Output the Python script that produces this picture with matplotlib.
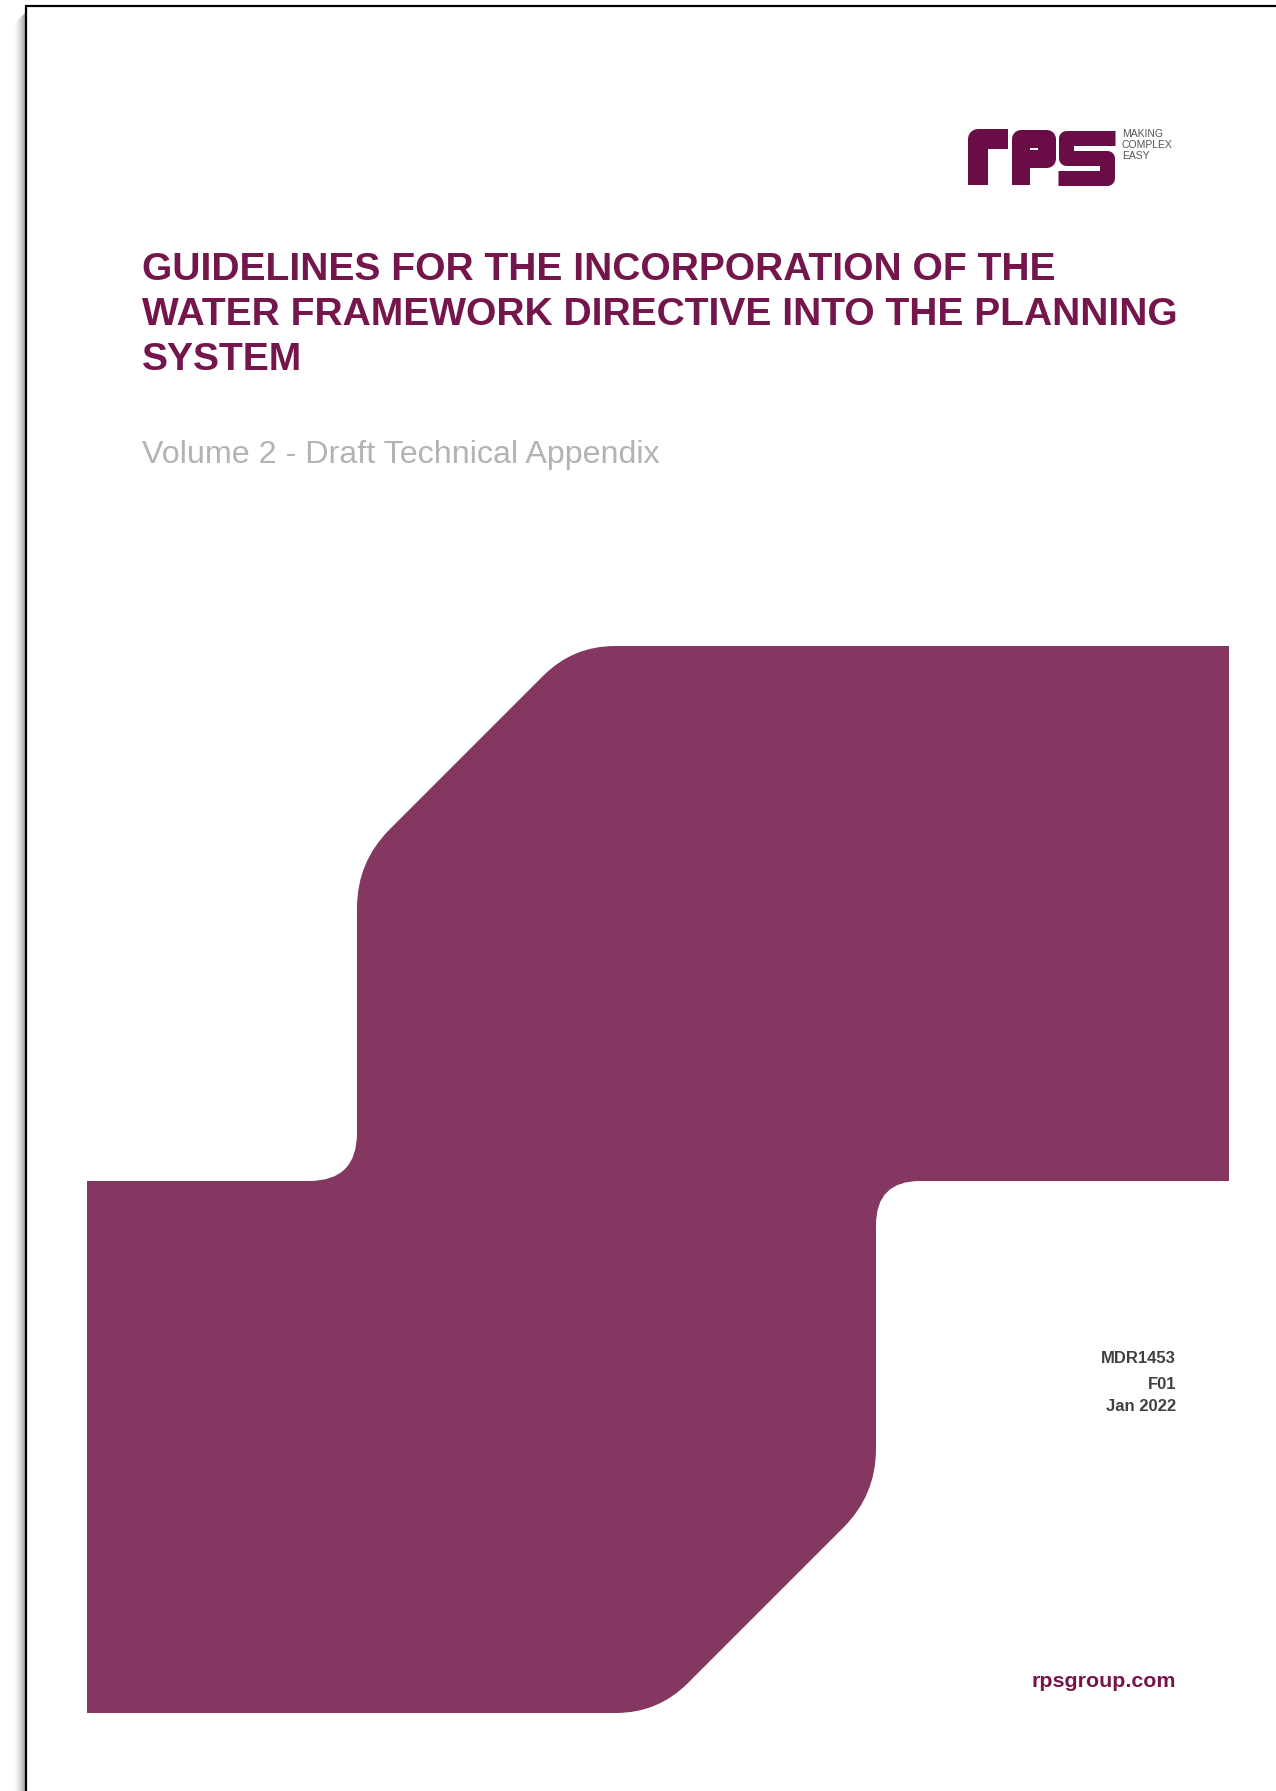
import numpy as np
import matplotlib.pyplot as plt
from matplotlib.path import Path
from matplotlib.patches import PathPatch

# page size in pixels (figure drawn in pixel coordinates, y going down)
W, H = 1276, 1791

# cover texts
title_lines = ['GUIDELINES FOR THE INCORPORATION OF THE',
               'WATER FRAMEWORK DIRECTIVE INTO THE PLANNING',
               'SYSTEM']
subtitle = 'Volume 2 - Draft Technical Appendix'
doc_info = ['MDR1453', 'F01', 'Jan 2022']
tagline = ['MAKING', 'COMPLEX', 'EASY']
website = 'rpsgroup.com'

# outline of the big purple shape: corner points and rounding length at each corner
shape_x = [573, 1229, 1229, 876, 876, 658, 87, 87, 357, 357]
shape_y = [646, 646, 1181, 1181, 1495, 1713, 1713, 1181, 1181, 862]
shape_round = [42, 0, 0, 44, 46, 42, 0, 0, 48, 46]

purple = '#843760'
dark_purple = '#74164b'
logo_col = '#6a0c45'


def rounded_path(xs, ys, rs):
    pts = np.column_stack([xs, ys]).astype(float)
    n = len(pts)
    verts, codes = [], []
    for i in range(n):
        v = pts[i]
        prev = pts[i - 1]
        nxt = pts[(i + 1) % n]
        r = rs[i]
        if r == 0:
            verts.append(v)
            codes.append(Path.MOVETO if i == 0 else Path.LINETO)
            continue
        a = v + r * (prev - v) / np.linalg.norm(prev - v)
        b = v + r * (nxt - v) / np.linalg.norm(nxt - v)
        verts.append(a)
        codes.append(Path.MOVETO if i == 0 else Path.LINETO)
        verts += [v, b]
        codes += [Path.CURVE3, Path.CURVE3]
    verts.append(verts[0])
    codes.append(Path.CLOSEPOLY)
    return Path(verts, codes)


fig = plt.figure(figsize=(W / 100, H / 100), dpi=100)
ax = fig.add_axes([0, 0, 1, 1])
ax.set_xlim(0, W)
ax.set_ylim(H, 0)
ax.axis('off')

px = 0.72  # points per pixel at dpi 100

# page edge shadow and border
for i in range(12):
    ax.plot([25 - i, 25 - i], [12 + i, H], color='black',
            alpha=0.4 * (1 - i / 12) ** 1.6, lw=1 * px, solid_capstyle='butt')
ax.plot([26, 26, W], [H, 6, 6], color='black', lw=2.2 * px, solid_joinstyle='miter')

# big shape
ax.add_patch(PathPatch(rounded_path(shape_x, shape_y, shape_round),
                       facecolor=purple, edgecolor='none'))

# logo "rps" drawn as thick strokes
lw = 18 * px
ax.plot([978, 978, 1008], [185, 139, 139], color=logo_col, lw=20 * px,
        solid_joinstyle='round', solid_capstyle='butt')
ax.plot([1021, 1021, 1047, 1047, 1021], [185, 139, 139, 159, 159], color=logo_col,
        lw=lw, solid_joinstyle='round', solid_capstyle='butt')
ax.plot([1115, 1066, 1066, 1107, 1107, 1058],
        [137.5, 137.5, 157.5, 157.5, 177.5, 177.5], color=logo_col,
        lw=15 * px, solid_joinstyle='round', solid_capstyle='butt')
for k, t in enumerate(tagline):
    ax.text(1122, 137 + k * 11, t, fontsize=7.5, color='#555555',
            family='Liberation Sans', va='baseline', ha='left')

# title
for k, t in enumerate(title_lines):
    ax.text(142, 280 + k * 45, t, fontsize=28.1, fontweight='bold', color=dark_purple,
            family='Liberation Sans', va='baseline', ha='left')

ax.text(142, 463, subtitle, fontsize=23.2, color='#b3b3b3',
        family='Liberation Sans', va='baseline', ha='left')

# document info
for t, yb in zip(doc_info, [1363, 1389, 1411]):
    ax.text(1176, yb, t, fontsize=12, fontweight='bold', color='#404040',
            family='Liberation Sans', va='baseline', ha='right')

ax.text(1176, 1687, website, fontsize=15.4, fontweight='bold', color=dark_purple,
        family='Liberation Sans', va='baseline', ha='right')

fig.savefig('out.png', dpi=100, facecolor='white')
